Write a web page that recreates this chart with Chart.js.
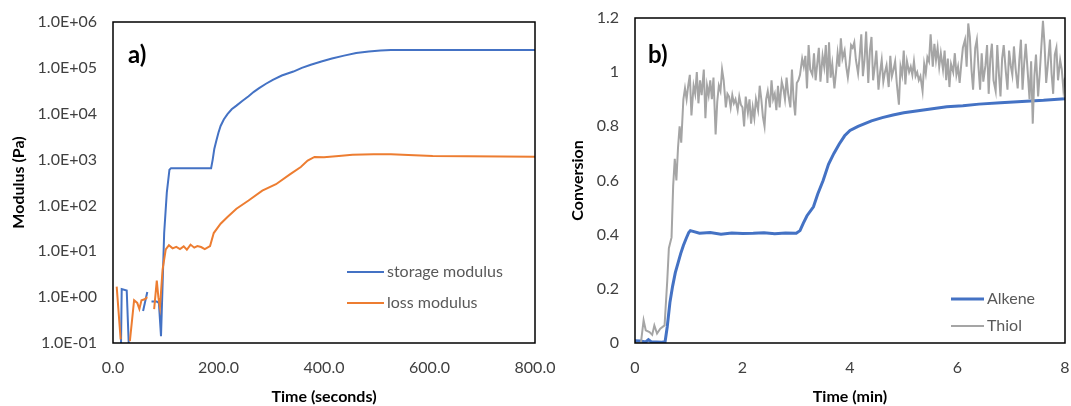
<!DOCTYPE html>
<html>
<head>
<meta charset="utf-8">
<title>Modulus and conversion</title>
<script src="https://cdn.jsdelivr.net/npm/chart.js"></script>
<style>
  html, body { margin: 0; padding: 0; background: #fff; }
  body { width: 1071px; height: 406px; position: relative; overflow: hidden; }
  .panel { position: absolute; top: 0; height: 406px; }
  #boxA { left: 0; width: 600px; }
  #boxB { left: 540px; width: 531px; }
</style>
</head>
<body>
<div class="panel" id="boxA"><canvas id="chartA" width="600" height="406"></canvas></div>
<div class="panel" id="boxB"><canvas id="chartB" width="531" height="406"></canvas></div>
<script>
// ---- panel a) : modulus vs time (s), log scale ----
const storageTime = [15, 16.5, 26, 30.5, 31, 57, 65, 69, 73, 83, 87, 91, 97, 102, 107, 110, 186, 189, 192, 196, 200, 204, 210, 217, 225, 234, 245, 257, 267, 277, 290, 303, 320, 342, 358, 375, 395, 415, 438, 461, 485, 507, 527, 600, 700, 800];
const storageModulus = [0.06, 1.5, 1.4, 0.06, null, 0.5, 1.3, null, 0.8, 0.8, 0.75, 0.14, 25, 190, 600, 650, 650, 1000, 1700, 2600, 3900, 5400, 7500, 9800, 12500, 15000, 19000, 24000, 30000, 36000, 45000, 55000, 68000, 83000, 100000, 117000, 138000, 160000, 185000, 210000, 228000, 240000, 245000, 245000, 245000, 245000];

const lossTime = [7, 14.5, 15, 32, 40, 46, 50, 54, 60, 65, 66, 78, 83, 86, 89, 94, 100, 106, 113, 120, 127, 134, 140, 147, 154, 160, 167, 174, 184, 191, 204, 217, 234, 257, 283, 309, 336, 356, 369, 382, 400, 428, 454, 494, 527, 560, 606, 671, 737, 800];
const lossModulus = [1.7, 0.12, null, 0.11, 0.86, 0.75, 0.55, 0.85, 0.9, 1.0, null, 0.55, 2.3, 1.0, 0.6, 4, 11, 13.6, 11.6, 12.5, 11.2, 12.8, 10.8, 14, 12, 13, 12.4, 11.2, 13, 25, 40, 56, 85, 128, 210, 290, 480, 690, 950, 1140, 1120, 1200, 1280, 1300, 1300, 1260, 1200, 1180, 1160, 1150];

const xTicksA = [0, 200, 400, 600, 800];
const xTickLabelsA = ['0.0', '200.0', '400.0', '600.0', '800.0'];
const yTicksA = [0.1, 1, 10, 100, 1000, 10000, 100000, 1000000];
const yTickLabelsA = ['1.0E-01', '1.0E+00', '1.0E+01', '1.0E+02', '1.0E+03', '1.0E+04', '1.0E+05', '1.0E+06'];

// ---- panel b) : conversion vs time (min) ----
const alkeneTime = [0, 0.1, 0.2, 0.25, 0.3, 0.4, 0.5, 0.56, 0.6, 0.65, 0.7, 0.75, 0.8, 0.85, 0.9, 0.95, 1.0, 1.03, 1.2, 1.4, 1.6, 1.8, 2.0, 2.2, 2.4, 2.6, 2.8, 3.0, 3.07, 3.13, 3.2, 3.32, 3.4, 3.5, 3.6, 3.7, 3.8, 3.9, 4.0, 4.15, 4.4, 4.6, 4.8, 5.0, 5.2, 5.5, 5.8, 6.1, 6.4, 6.8, 7.2, 7.6, 8.0];
const alkene = [0.008, 0.007, 0.004, 0.012, 0.005, 0.004, 0.003, 0.005, 0.06, 0.15, 0.21, 0.26, 0.295, 0.33, 0.36, 0.385, 0.408, 0.415, 0.405, 0.408, 0.402, 0.406, 0.404, 0.405, 0.407, 0.403, 0.406, 0.405, 0.415, 0.442, 0.47, 0.503, 0.55, 0.6, 0.66, 0.7, 0.735, 0.765, 0.785, 0.8, 0.82, 0.832, 0.842, 0.85, 0.856, 0.864, 0.872, 0.876, 0.882, 0.887, 0.892, 0.896, 0.902];

const thiolTime = [0, 0.11, 0.16, 0.2, 0.27, 0.32, 0.36, 0.41, 0.47, 0.55, 0.6, 0.63, 0.68, 0.71, 0.74, 0.77, 0.8, 0.83, 0.86, 0.9, 0.93, 0.96, 0.99,
  1.02, 1.05, 1.09, 1.12, 1.15, 1.18, 1.21, 1.24, 1.28, 1.31, 1.34, 1.37, 1.4, 1.43, 1.46, 1.5, 1.53, 1.56, 1.59, 1.62, 1.65, 1.69, 1.72, 1.75, 1.78, 1.81, 1.84, 1.87, 1.91, 1.94, 1.97,
  2.0, 2.03, 2.06, 2.1, 2.13, 2.16, 2.19, 2.22, 2.25, 2.29, 2.32, 2.35, 2.38, 2.41, 2.44, 2.47, 2.51, 2.54, 2.57, 2.6, 2.63, 2.66, 2.69, 2.73, 2.76, 2.79, 2.82, 2.85, 2.89, 2.92, 2.95, 2.98,
  3.01, 3.04, 3.07, 3.11, 3.14, 3.17, 3.2, 3.23, 3.26, 3.3, 3.33, 3.36, 3.39, 3.42, 3.45, 3.49, 3.52, 3.55, 3.58, 3.61, 3.64, 3.67, 3.71, 3.74, 3.77, 3.8, 3.83, 3.86, 3.9, 3.93, 3.96, 3.99,
  4.02, 4.05, 4.08, 4.11, 4.15, 4.18, 4.21, 4.24, 4.27, 4.3, 4.34, 4.37, 4.4, 4.43, 4.46, 4.49, 4.53, 4.56, 4.59, 4.62, 4.65, 4.68, 4.72, 4.75, 4.78, 4.81, 4.84, 4.87, 4.91, 4.94, 4.97,
  5.0, 5.03, 5.06, 5.1, 5.13, 5.16, 5.19, 5.22, 5.25, 5.28, 5.31, 5.35, 5.38, 5.41, 5.44, 5.47, 5.5, 5.54, 5.57, 5.6, 5.63, 5.66, 5.69, 5.73, 5.76, 5.79, 5.82, 5.85, 5.88, 5.92, 5.95, 5.98,
  6.01, 6.04, 6.07, 6.1, 6.14, 6.17, 6.2, 6.23, 6.26, 6.29, 6.33, 6.36, 6.39, 6.42, 6.45, 6.48, 6.52, 6.55, 6.58, 6.61, 6.64, 6.67, 6.71, 6.74, 6.77, 6.8, 6.83, 6.86, 6.9, 6.93, 6.96, 6.99,
  7.02, 7.05, 7.08, 7.12, 7.15, 7.18, 7.21, 7.24, 7.27, 7.31, 7.34, 7.37, 7.4, 7.43, 7.46, 7.5, 7.53, 7.56, 7.59, 7.62, 7.65, 7.68, 7.72, 7.75, 7.78, 7.81, 7.84, 7.87, 7.91, 7.94, 7.97, 8.0];
const thiol = [0, 0, 0.084, 0.047, 0.04, 0.03, 0.065, 0.035, 0.053, 0.065, 0.23, 0.35, 0.39, 0.58, 0.68, 0.6, 0.72, 0.8, 0.74, 0.9, 0.94, 0.9, 0.95,
  0.99, 0.84, 0.95, 0.92, 1.0, 0.885, 0.97, 0.915, 1.01, 0.83, 0.95, 0.915, 0.97, 0.9, 0.98, 0.77, 0.89, 0.95, 0.93, 1.01, 0.97, 0.87, 0.92, 0.91, 0.87, 0.915, 0.885, 0.9, 0.86, 0.91, 0.88,
  0.87, 0.8, 0.91, 0.85, 0.9, 0.81, 0.87, 0.83, 0.9, 0.86, 0.95, 0.9, 0.835, 0.8, 0.9, 0.93, 0.87, 0.97, 0.9, 0.92, 0.86, 0.95, 0.87, 0.965, 0.94, 0.9, 0.98, 0.92, 0.87, 1.01, 0.9, 0.84,
  0.96, 0.97, 0.99, 1.05, 1.02, 1.06, 0.94, 1.1, 1.01, 0.99, 1.07, 0.97, 1.03, 1.09, 0.965, 1.06, 1.02, 1.1, 0.96, 1.11, 0.98, 1.03, 0.94, 1.0, 1.07, 1.02, 1.125, 1.05, 1.08, 1.02, 0.98, 1.03,
  1.1, 1.09, 1.11, 1.045, 0.995, 1.06, 1.14, 0.985, 1.045, 1.15, 0.96, 1.08, 1.13, 0.97, 1.02, 1.08, 0.935, 1.0, 1.045, 0.965, 1.0, 1.025, 0.945, 1.06, 0.985, 1.01, 1.04, 0.96, 0.88, 1.02, 0.99,
  1.08, 0.955, 1.04, 1.0, 1.02, 0.99, 1.04, 0.985, 1.0, 0.97, 0.985, 0.93, 1.03, 0.995, 1.055, 1.04, 1.14, 1.02, 1.105, 1.045, 1.09, 1.02, 1.07, 1.01, 1.08, 0.97, 1.05, 0.945, 1.03, 1.0, 1.07, 0.99,
  1.02, 0.96, 1.03, 1.09, 1.12, 1.02, 1.18, 1.13, 1.01, 0.935, 1.09, 1.12, 1.02, 0.935, 1.07, 0.965, 1.025, 1.1, 0.92, 1.05, 1.105, 0.97, 0.93, 1.1, 0.995, 0.91, 1.05, 1.1, 1.0, 0.935, 1.08, 1.025,
  0.99, 1.095, 1.015, 0.94, 1.045, 1.12, 0.935, 1.03, 1.105, 0.99, 0.9, 1.04, 0.81, 0.985, 1.065, 0.91, 0.995, 1.095, 1.19, 1.1, 0.96, 1.025, 1.12, 0.995, 0.92, 1.065, 1.09, 0.97, 1.045, 1.01, 0.935, 0.98];

const xTicksB = [0, 2, 4, 6, 8];
const xTickLabelsB = ['0', '2', '4', '6', '8'];
const yTicksB = [0, 0.2, 0.4, 0.6, 0.8, 1.0, 1.2];
const yTickLabelsB = ['0', '0.2', '0.4', '0.6', '0.8', '1', '1.2'];

const FONT = 'Lato, "Open Sans", sans-serif';
const TICK_COLOR = '#404040';

function toPoints(xs, ys) {
  return xs.map((x, i) => ({ x: x, y: ys[i] }));
}

// draws the plot frame, the panel letter and the legend inside the plot
const framePlugin = {
  id: 'frame',
  afterDatasetsDraw(chart, args, opts) {
    const { ctx, chartArea: a } = chart;
    ctx.save();
    ctx.strokeStyle = '#000';
    ctx.lineWidth = 1.5;
    ctx.strokeRect(a.left, a.top, a.right - a.left, a.bottom - a.top);

    ctx.fillStyle = '#000';
    ctx.font = 'bold 24px ' + FONT;
    ctx.textBaseline = 'middle';
    ctx.textAlign = 'left';
    ctx.fillText(opts.label, opts.labelX, opts.labelY);

    ctx.font = '16px ' + FONT;
    chart.data.datasets.forEach((ds, i) => {
      const y = opts.legendY + i * opts.legendDy;
      ctx.strokeStyle = ds.borderColor;
      ctx.lineWidth = ds.borderWidth;
      ctx.beginPath();
      ctx.moveTo(opts.legendX, y);
      ctx.lineTo(opts.legendX + opts.legendLen, y);
      ctx.stroke();
      ctx.fillStyle = '#595959';
      ctx.fillText(ds.label, opts.legendX + opts.legendLen + 3, y);
    });
    ctx.restore();
  }
};

function axisTitle(text, padding) {
  return { display: true, text: text, color: '#000', padding: padding, font: { family: FONT, size: 16, weight: 'bold' } };
}

function fixedTicks(values) {
  return function (scale) { scale.ticks = values.map(v => ({ value: v })); };
}

// keep the plot box where it is: no extra room for edge labels
function fixHeight(h) {
  return function (s) { s.height = h; s.paddingLeft = 0; s.paddingRight = 0; };
}
function fixWidth(w) {
  return function (s) { s.width = w; s.paddingTop = 0; s.paddingBottom = 0; };
}

new Chart(document.getElementById('chartA'), {
  type: 'line',
  data: {
    datasets: [
      { label: 'storage modulus', data: toPoints(storageTime, storageModulus), borderColor: '#4472C4', borderWidth: 2, pointRadius: 0, tension: 0, order: 2 },
      { label: 'loss modulus', data: toPoints(lossTime, lossModulus), borderColor: '#ED7D31', borderWidth: 2, pointRadius: 0, tension: 0, order: 1 }
    ]
  },
  options: {
    responsive: false,
    animation: false,
    layout: { padding: { top: 22, right: 65, left: 0, bottom: 0 } },
    plugins: {
      legend: { display: false },
      tooltip: { enabled: false },
      frame: { label: 'a)', labelX: 128, labelY: 55, legendX: 347, legendY: 272, legendDy: 31, legendLen: 37 }
    },
    scales: {
      x: {
        type: 'linear', min: 0, max: 800,
        grid: { display: false, drawTicks: false }, border: { display: false },
        afterBuildTicks: fixedTicks(xTicksA),
        afterFit: fixHeight(63),
        ticks: { padding: 15, color: TICK_COLOR, font: { family: FONT, size: 16 }, maxRotation: 0, callback: (v, i) => xTickLabelsA[i] },
        title: axisTitle('Time (seconds)', { top: 0, bottom: 0 })
      },
      y: {
        type: 'logarithmic', min: 0.1, max: 1000000,
        grid: { display: false, drawTicks: false }, border: { display: false },
        afterBuildTicks: fixedTicks(yTicksA),
        afterFit: fixWidth(113),
        ticks: { padding: 16, color: TICK_COLOR, font: { family: FONT, size: 16 }, callback: (v, i) => yTickLabelsA[i] },
        title: axisTitle('Modulus (Pa)', { top: 9, bottom: 0 })
      }
    }
  },
  plugins: [framePlugin]
});

new Chart(document.getElementById('chartB'), {
  type: 'line',
  data: {
    datasets: [
      { label: 'Alkene', data: toPoints(alkeneTime, alkene), borderColor: '#4472C4', borderWidth: 3, pointRadius: 0, tension: 0, order: 2 },
      { label: 'Thiol', data: toPoints(thiolTime, thiol), borderColor: '#A5A5A5', borderWidth: 2, pointRadius: 0, tension: 0, order: 1 }
    ]
  },
  options: {
    responsive: false,
    animation: false,
    layout: { padding: { top: 18, right: 6, left: 0, bottom: 0 } },
    plugins: {
      legend: { display: false },
      tooltip: { enabled: false },
      frame: { label: 'b)', labelX: 108, labelY: 55, legendX: 411, legendY: 299, legendDy: 27, legendLen: 33 }
    },
    scales: {
      x: {
        type: 'linear', min: 0, max: 8,
        grid: { display: false, drawTicks: false }, border: { display: false },
        afterBuildTicks: fixedTicks(xTicksB),
        afterFit: fixHeight(63),
        ticks: { padding: 15, color: TICK_COLOR, font: { family: FONT, size: 16 }, maxRotation: 0, callback: (v, i) => xTickLabelsB[i] },
        title: axisTitle('Time (min)', { top: 0, bottom: 0 })
      },
      y: {
        type: 'linear', min: 0, max: 1.2,
        grid: { display: false, drawTicks: false }, border: { display: false },
        afterBuildTicks: fixedTicks(yTicksB),
        afterFit: fixWidth(95),
        ticks: { padding: 16, color: TICK_COLOR, font: { family: FONT, size: 16 }, callback: (v, i) => yTickLabelsB[i] },
        title: axisTitle('Conversion', { top: 28, bottom: 0 })
      }
    }
  },
  plugins: [framePlugin]
});
</script>
</body>
</html>
